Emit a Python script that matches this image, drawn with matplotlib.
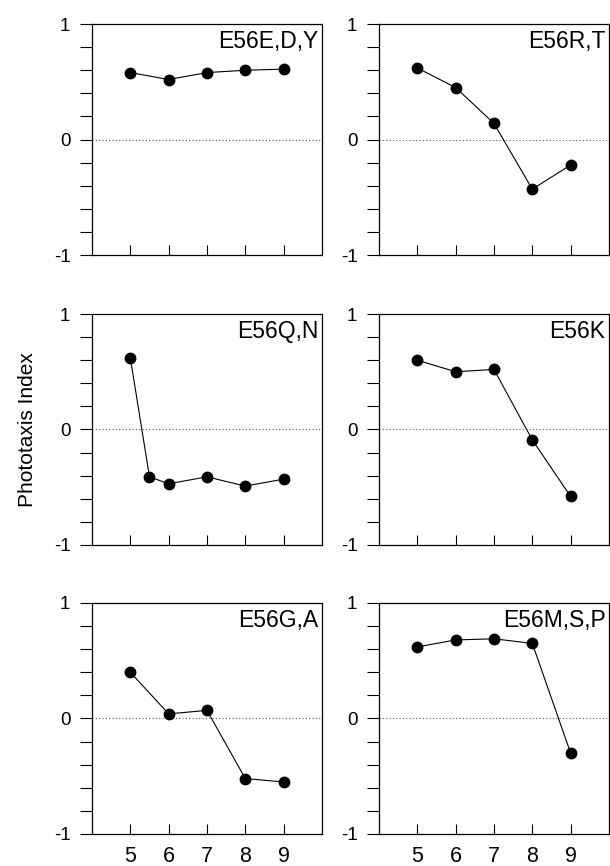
import matplotlib
matplotlib.use("Agg")
import matplotlib.pyplot as plt
import numpy as np
from matplotlib.ticker import MultipleLocator

plt.rcParams['font.family'] = ['Liberation Sans', 'DejaVu Sans']
plt.rcParams['axes.unicode_minus'] = False

# panel labels, in reading order
labels = ["E56E,D,Y", "E56R,T", "E56Q,N", "E56K", "E56G,A", "E56M,S,P"]

# x values (time point) per panel
x_std = [5, 6, 7, 8, 9]
x_qn = [5, 5.5, 6, 7, 8, 9]

# phototaxis index per panel
pi_edy = [0.58, 0.52, 0.58, 0.60, 0.61]
pi_rt = [0.62, 0.45, 0.14, -0.43, -0.22]
pi_qn = [0.62, -0.41, -0.47, -0.41, -0.49, -0.43]
pi_k = [0.60, 0.50, 0.52, -0.09, -0.58]
pi_ga = [0.40, 0.04, 0.07, -0.52, -0.55]
pi_msp = [0.62, 0.68, 0.69, 0.65, -0.30]

xs = [x_std, x_std, x_qn, x_std, x_std, x_std]
ys = [pi_edy, pi_rt, pi_qn, pi_k, pi_ga, pi_msp]

xticks = [5, 6, 7, 8, 9]

fig = plt.figure(figsize=(6.10, 8.66), dpi=100)

# axes boxes [left, bottom, width, height] in figure fractions
lefts = [0.1508, 0.6213]
bottoms = [0.7055, 0.3707, 0.0370]
w, h = 0.377, 0.2667

for i in range(6):
    row, col = i // 2, i % 2
    ax = fig.add_axes([lefts[col], bottoms[row], w, h])

    ax.axhline(0, color='0.35', lw=0.8, ls=(0, (1, 2)), zorder=1)
    ax.plot(xs[i], ys[i], '-', color='black', lw=0.8, zorder=2)
    ax.plot(xs[i], ys[i], 'o', color='black', ms=7.5, zorder=3)

    ax.set_xlim(4, 10)
    ax.set_ylim(-1, 1)
    ax.set_xticks(xticks)
    ax.set_yticks([-1, 0, 1])
    ax.yaxis.set_minor_locator(MultipleLocator(0.2))

    ax.tick_params(axis='x', direction='in', length=7, width=0.8,
                   labelsize=15.5, pad=9)
    ax.tick_params(axis='y', which='both', direction='out', length=8.5,
                   width=0.8, labelsize=13.5, pad=7)
    if row < 2:
        ax.set_xticklabels([])

    for sp in ax.spines.values():
        sp.set_linewidth(0.9)

    ax.text(0.985, 0.975, labels[i], transform=ax.transAxes,
            ha='right', va='top', fontsize=16.5)

    if i == 2:
        ax.set_ylabel("Phototaxis Index", fontsize=15, labelpad=12)

fig.savefig("out.png", dpi=100)
